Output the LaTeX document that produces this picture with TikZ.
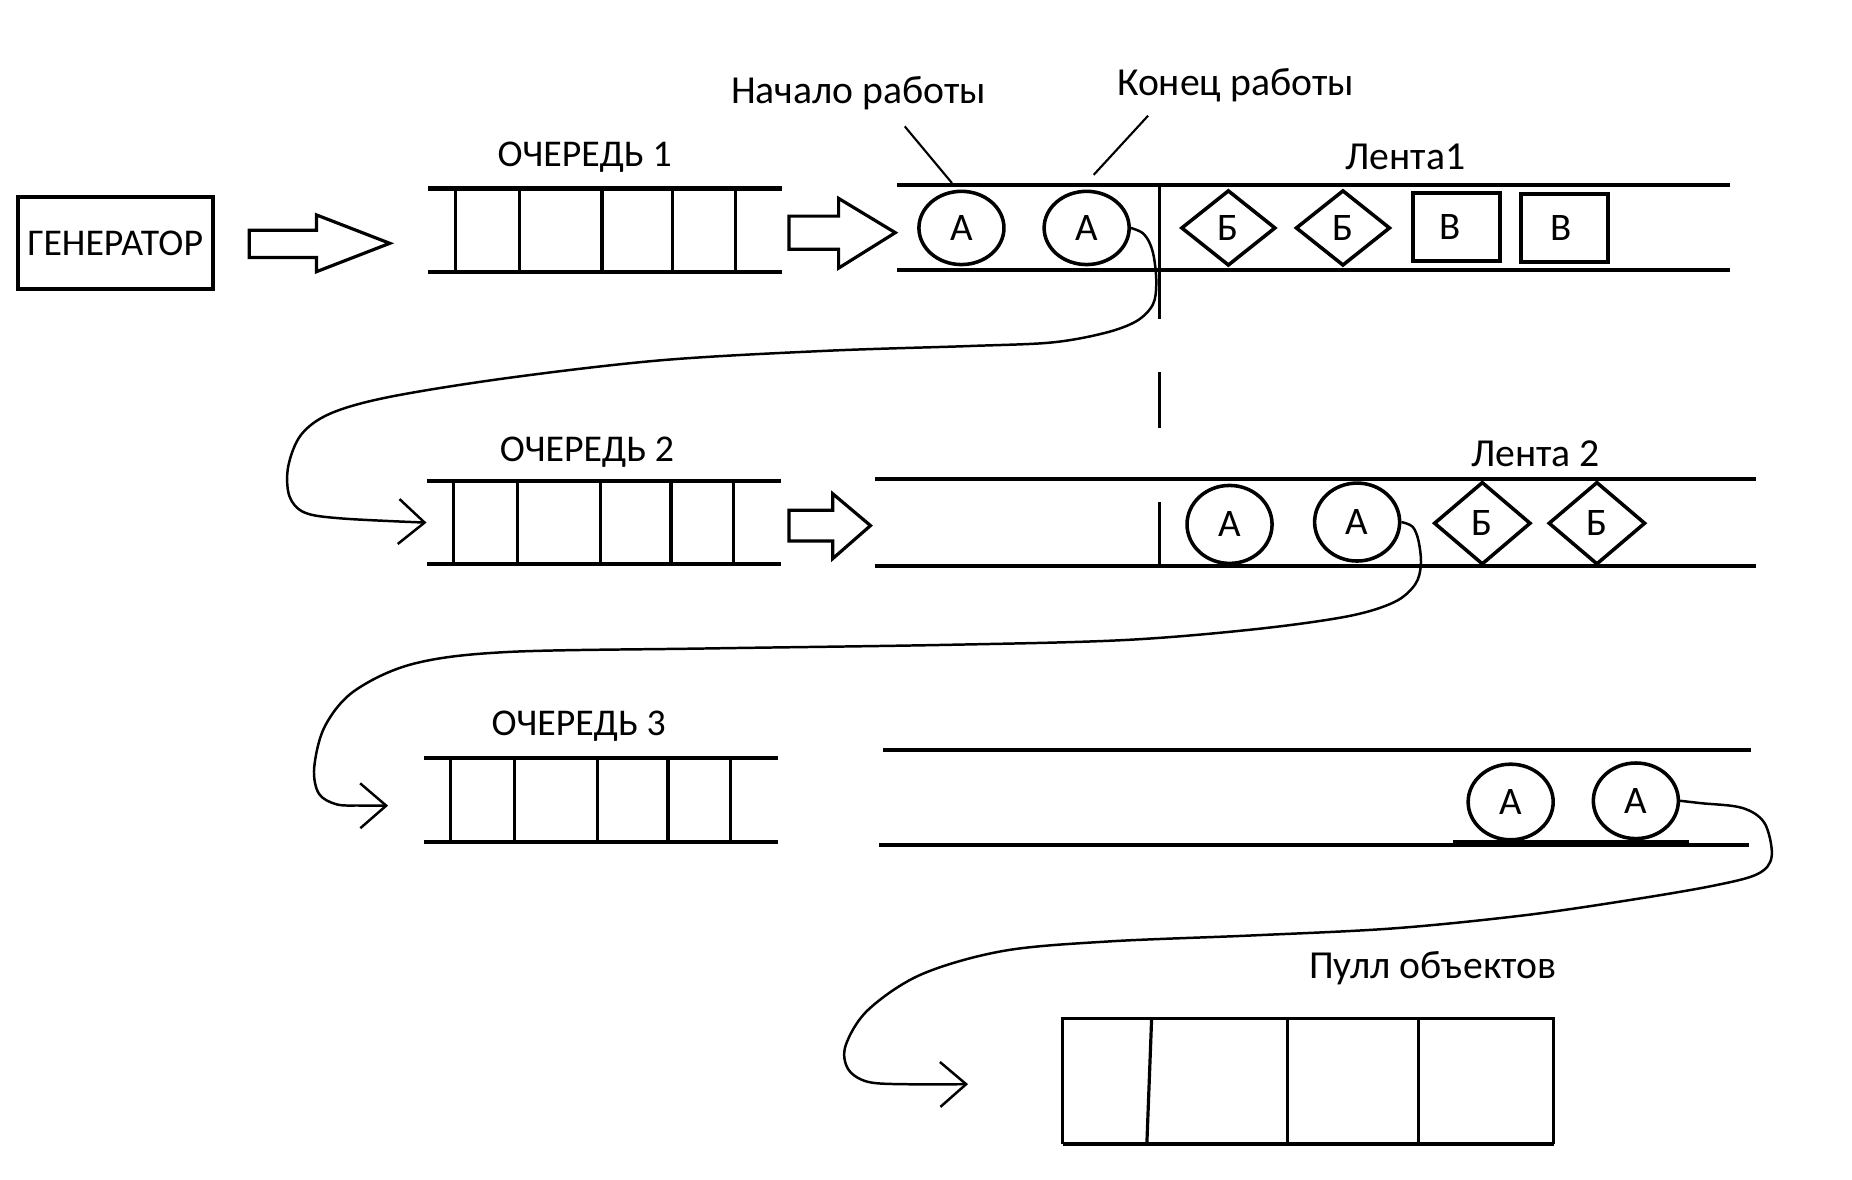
\documentclass[tikz,border=0pt]{standalone}
\usepackage{fontspec}
\setmainfont{Carlito}
\usetikzlibrary{arrows.meta,shapes.geometric,calc}
\begin{document}
\begin{tikzpicture}[x=0.5pt,y=-0.5pt,
  txt/.style={font=\fontsize{16}{19}\selectfont, inner sep=0pt},
  ltxt/.style={font=\fontsize{16.8}{20}\selectfont, inner sep=0pt},
  heavy/.style={line width=1.7pt},
  medium/.style={line width=1.35pt},
  conn/.style={line width=1.05pt, -{Straight Barb[length=11pt,width=19pt,line width=1.05pt]}},
  pointer/.style={line width=0.9pt},
  ghost/.style={inner sep=0pt, draw=none},
  circ/.style={ellipse, draw, line width=1.5pt, inner sep=0pt, font=\fontsize{16.5}{19}\selectfont},
  diam/.style={diamond, draw, line width=1.5pt, inner sep=0pt, font=\fontsize{16.5}{19}\selectfont},
  sq/.style={rectangle, draw, line width=1.7pt, inner sep=0pt, minimum width=37pt, minimum height=29pt, font=\fontsize{16.5}{19}\selectfont}
]
\useasboundingbox (0,0) rectangle (1568,999);

% generator
\node[draw, heavy, minimum width=82.5pt, minimum height=39pt, inner sep=0pt, font=\fontsize{16}{19}\selectfont] (gen) at (97.5,206) {ГЕНЕРАТОР};

% block arrows
\draw[medium] (211,195)--(268,195)--(268,182)--(330,206)--(268,230)--(268,218)--(211,218)--cycle;
\draw[medium] (668,183)--(710,183)--(710,168)--(758,197)--(710,227)--(710,211)--(668,211)--cycle;
\draw[medium] (668,432)--(705,432)--(705,418)--(737,445)--(705,473)--(705,458)--(668,458)--cycle;

% queues
\foreach \q/\cx/\cy in {q1/512.5/195, q2/511/442.5, q3/508.5/677.5}{
  \node[ghost, minimum width=149.5pt, minimum height=35pt] (\q) at (\cx,\cy) {};
  \draw[heavy] (\q.north west) -- (\q.north east);
  \draw[heavy] (\q.south west) -- (\q.south east);
  \foreach \o in {23,77,147,207,260}{
    \draw[medium] ([xshift=\o*0.5pt]\q.north west) -- ([xshift=\o*0.5pt]\q.south west);
  }
}
\node[txt] (q1l) at (495,133) {ОЧЕРЕДЬ 1};
\node[txt] (q2l) at (497,383) {ОЧЕРЕДЬ 2};
\node[txt] (q3l) at (490,615) {ОЧЕРЕДЬ 3};

% belts
\node[ghost, minimum width=352pt, minimum height=35.5pt] (l1) at (1112,192.5) {};
\draw[heavy] (l1.north west) -- (l1.north east);
\draw[heavy] (l1.south west) -- (l1.south east);
\node[ghost, minimum width=372.5pt, minimum height=36.5pt] (l2) at (1113.5,442.5) {};
\draw[heavy] (l2.north west) -- (l2.north east);
\draw[heavy] (l2.south west) -- (l2.south east);
\node[ghost, minimum width=368pt, minimum height=40pt] (l3) at (1116,675) {};
\draw[heavy] (l3.north west) -- ([xshift=-1pt]l3.north east);
\draw[heavy] ([xshift=-1.5pt]l3.south west) -- ([xshift=-2pt]l3.south east);
\draw[heavy] (1230,713) -- (1430,713);

\node[ltxt] (l1l) at (1190,133) {Лента1};
\node[ltxt] (l2l) at (1300,384) {Лента 2};

% belt 1 items
\node[circ, minimum width=36pt, minimum height=31pt] (a1) at (814,193) {А};
\node[circ, minimum width=36pt, minimum height=31pt] (a2) at (920,193) {А};
\node[diam, minimum width=40pt, minimum height=32pt] (b1) at (1040,193) {Б};
\node[diam, minimum width=40pt, minimum height=32pt] (b2) at (1137,193) {Б};
\node[sq] (v1) at (1233,192) {\hspace*{-5pt}В};
\node[sq] (v2) at (1324.5,193) {\hspace*{-3pt}В};

% belt 2 items
\node[circ, minimum width=36pt, minimum height=33pt] (c1) at (1041,444) {А};
\node[circ, minimum width=36pt, minimum height=33pt] (c2) at (1149,442) {А};
\node[diam, minimum width=41pt, minimum height=35pt] (d1) at (1255,443) {Б};
\node[diam, minimum width=41pt, minimum height=35pt] (d2) at (1352,443) {Б};

% belt 3 items
\node[circ, minimum width=36pt, minimum height=32pt] (e1) at (1279,679) {А};
\node[circ, minimum width=36pt, minimum height=32pt] (e2) at (1385,678) {А};

% pool
\node[ghost, minimum width=207.5pt, minimum height=52.5pt] (pool) at (1107.5,915.5) {};
\draw[medium] (pool.south west) -- (pool.north west) -- (pool.north east) -- (pool.south east);
\draw[heavy] (pool.south west) -- (pool.south east);
\draw[medium] (975,863) -- (971,968);
\draw[medium] (1090,863) -- (1090,968);
\draw[medium] (1201,863) -- (1201,968);
\node[ltxt] (pooll) at (1213,820) {Пулл объектов};

% labels with pointers
\node[ltxt] (start) at (727,79) {Начало работы};
\node[ltxt] (end) at (1046,72) {Конец работы};
\coordinate (startp) at (806,155);
\coordinate (endp) at (926,148);
\draw[pointer] (766,107) -- (startp);
\draw[pointer] (972,98) -- (endp);

% dashed boundary
\coordinate (dtop) at (982,157);
\coordinate (dbot) at (982,478);
\draw[line width=1.3pt, dash pattern=on 56.5pt off 22.5pt on 23.5pt off 31.5pt on 27pt] (dtop) -- (dbot);

% connectors
\coordinate (c1end) at (q2.west);
\coordinate (c2end) at ([xshift=-15pt,yshift=-2.3pt]q3.west);
\coordinate (c3end) at ([xshift=-40pt,yshift=-1.2pt]pool.west);

\draw[conn] plot[smooth, tension=0.55] coordinates {(a2.east) (967,197) (973,205) (977,218) (979,240) (976,258) (962,272) (935,282) (890,290) (820,293) (700,297) (560,305) (430,320) (330,336) (280,350) (255,368) (244,395) (245,420) (258,434) (290,439) (c1end)};

\draw[conn] plot[smooth, tension=0.55] coordinates {(c2.east) (1196,446) (1201,458) (1203,478) (1198,495) (1180,510) (1140,522) (1060,533) (950,542) (800,546) (600,549) (430,552) (350,562) (300,585) (275,615) (266,650) (270,672) (285,681) (305,682) (c2end)};

\draw[conn] plot[smooth, tension=0.55] coordinates {(e2.east) (1440,680) (1475,684) (1494,697) (1500,725) (1488,740) (1450,750) (1380,762) (1290,775) (1180,786) (1060,792) (940,797) (850,805) (780,825) (735,855) (716,885) (718,905) (735,916) (770,918) (c3end)};

\end{tikzpicture}
\end{document}
